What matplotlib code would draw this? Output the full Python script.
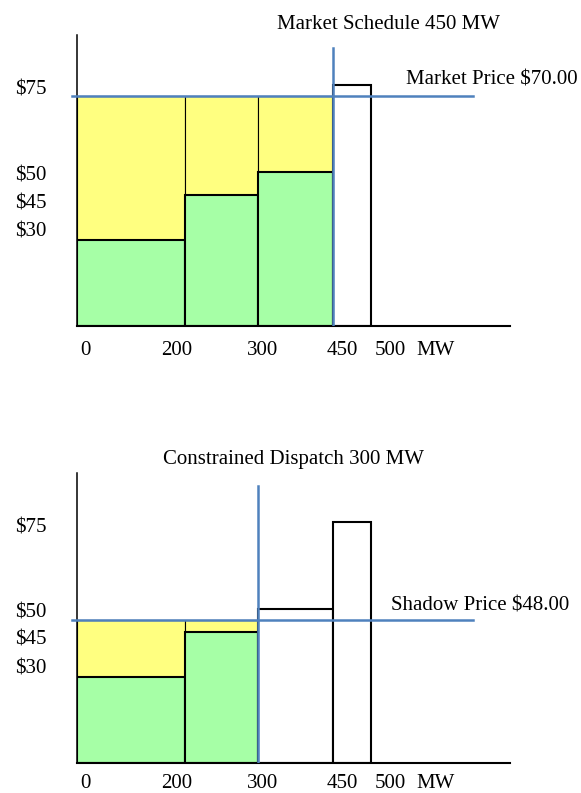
import numpy as np
import matplotlib
matplotlib.use("Agg")
import matplotlib.pyplot as plt
from matplotlib import transforms

plt.rcParams["font.family"] = ["Liberation Serif", "DejaVu Serif"]

# offer stack (MW block edges and offer price per block)
mw_edges = [0, 200, 300, 450, 500]
offer_price = [30, 45, 50, 75]
price_ticks = [75, 50, 45, 30]
mw_ticks = [0, 200, 300, 450, 500]

# case 1: market solution, case 2: constrained dispatch
market_schedule = 450
market_price = 70.00
constrained_mw = 300
shadow_price = 48.00

YELLOW = "#FFFF80"
GREEN = "#A6FFA6"
BLUE = "#4F81BD"

W, H = 581, 793

# the original slide is hand drawn, so both axes use a piecewise display scale
x_anchor = [-100, 0, 200, 300, 450, 500, 700]
x_pix = [-54, 0, 108.3, 180.5, 256, 294, 446]
y_anchor = [0, 30, 45, 48, 50, 70, 75, 100]
y_pix = [0, 86, 131, 142.7, 153.5, 230, 241, 296]

def xfwd(v):
    return np.interp(v, x_anchor, x_pix)

def xinv(p):
    return np.interp(p, x_pix, x_anchor)

def yfwd(v):
    return np.interp(v, y_anchor, y_pix)

def yinv(p):
    return np.interp(p, y_pix, y_anchor)

# label nudges in pixels (the slide labels are not centred on the values)
x_lab_dx = [8.7, -8.6, 4.6, 9.3, 19]
y_lab_dy = [-10.3, -8.1, -13.3, 3.4]

fig = plt.figure(figsize=(W / 100, H / 100), dpi=100)


def panel(bottom_px, height_px, dispatched_mw, price, title, price_label,
          title_xy, label_xy, xlab_drop=29.5):
    ax = fig.add_axes([77 / W, (H - bottom_px) / H, 433 / W, height_px / H])
    ax.set_xscale("function", functions=(xfwd, xinv))
    ax.set_yscale("function", functions=(yfwd, yinv))
    ax.set_xlim(0, xinv(433))
    ax.set_ylim(0, yinv(height_px))

    left = np.array(mw_edges[:-1])
    width = np.diff(mw_edges)
    offers = np.array(offer_price)
    on = left + width <= dispatched_mw

    # producer surplus above the offer, up to the clearing price
    ax.bar(left[on], price - offers[on], width=width[on], bottom=offers[on],
           align="edge", color=YELLOW, edgecolor="black", lw=0.8, zorder=1)
    ax.bar(left[on], offers[on], width=width[on], align="edge",
           color=GREEN, edgecolor="black", lw=1.5, zorder=2)
    ax.bar(left[~on], offers[~on], width=width[~on], align="edge",
           color="white", edgecolor="black", lw=1.5, zorder=2)

    ax.axhline(price, xmin=-5 / 433, xmax=396 / 433, color=BLUE, lw=1.8,
               clip_on=False, zorder=4)
    ax.axvline(dispatched_mw, ymin=0, ymax=0.955, color=BLUE, lw=1.8,
               zorder=4)

    for s in ["top", "right"]:
        ax.spines[s].set_visible(False)
    ax.spines["left"].set_linewidth(1.1)
    ax.spines["bottom"].set_linewidth(1.5)
    ax.set_xticks([])
    ax.set_yticks([])
    ax.minorticks_off()

    xt = transforms.blended_transform_factory(ax.transData, ax.transAxes)
    for v, dx in zip(mw_ticks, x_lab_dx):
        tr = transforms.offset_copy(xt, fig=fig, x=dx, y=-xlab_drop,
                                    units="dots")
        ax.text(v, 0, str(v), transform=tr, ha="center", va="baseline",
                fontsize=15)
    tr = transforms.offset_copy(xt, fig=fig, x=64.7, y=-xlab_drop,
                                units="dots")
    ax.text(mw_ticks[-1], 0, "MW", transform=tr, ha="center",
            va="baseline", fontsize=15)

    yt = transforms.blended_transform_factory(ax.transAxes, ax.transData)
    for v, dy in zip(price_ticks, y_lab_dy):
        tr = transforms.offset_copy(yt, fig=fig, x=-62, y=dy, units="dots")
        ax.text(0, v, f"${v}", transform=tr, ha="left", va="baseline",
                fontsize=15)

    fig.text(title_xy[0] / W, 1 - title_xy[1] / H, title, ha="left",
             va="baseline", fontsize=15)
    fig.text(label_xy[0] / W, 1 - label_xy[1] / H, price_label, ha="left",
             va="baseline", fontsize=15)
    return ax


panel(325.7, 290.7, market_schedule, market_price,
      f"Market Schedule {market_schedule} MW",
      f"Market Price ${market_price:.2f}", (276.7, 28.7), (405.7, 85))
panel(762.7, 290.0, constrained_mw, shadow_price,
      f"Constrained Dispatch {constrained_mw} MW",
      f"Shadow Price ${shadow_price:.2f}", (162.7, 464), (390.7, 610),
      xlab_drop=25.5)

fig.savefig("out.png", dpi=100)
